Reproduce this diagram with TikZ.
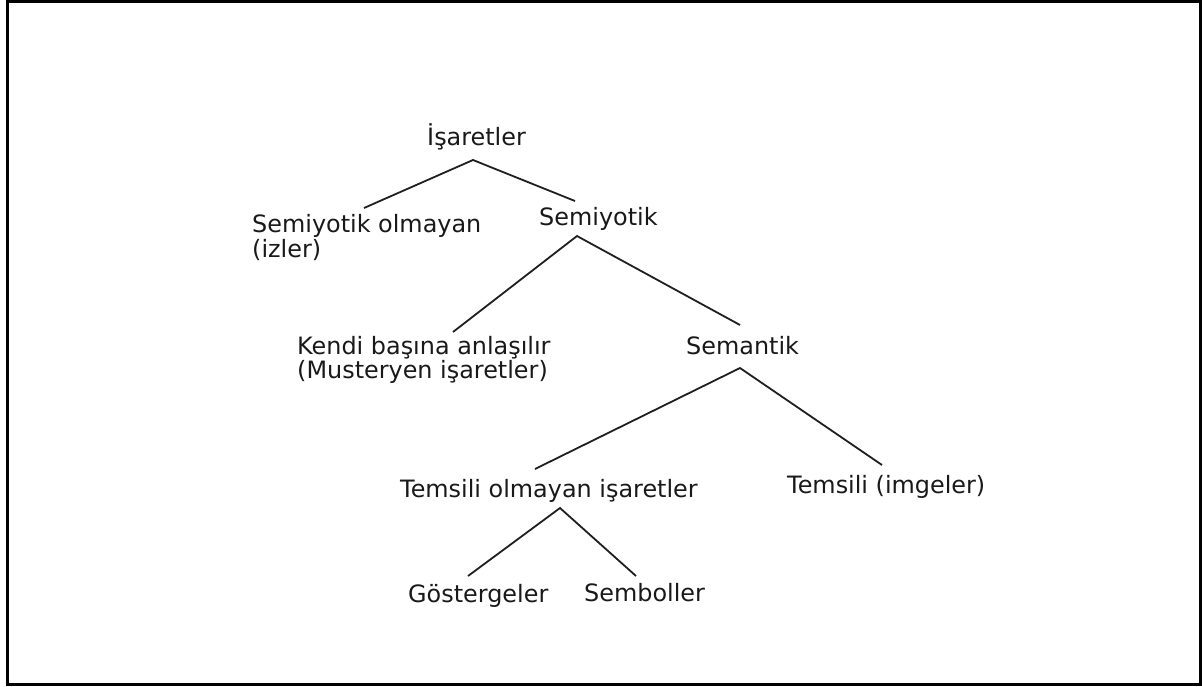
\documentclass[tikz,border=0pt]{standalone}
\usepackage{fontspec}
\setmainfont{DejaVu Sans}
\begin{document}
\begin{tikzpicture}[x=1pt,y=-1pt,
  lbl/.style={anchor=base west,inner sep=0pt,text=black!90,font=\fontsize{23.9}{20}\selectfont,align=left},
  conn/.style={draw=black!88,line width=1.8pt}]
\useasboundingbox (0,0) rectangle (1202,686);
\draw[line width=2.6pt] (7.3,1.3) rectangle (1200.7,684.7);
% nodes (multi-line nodes are placed by the baseline of their last line)
\node[lbl] (isaret) at (427,145) {İşaretler};
\node[lbl] (semol) at (252,257) {Semiyotik olmayan\\(izler)};
\node[lbl] (semiy) at (539,225) {Semiyotik};
\node[lbl] (kendi) at (297,378) {Kendi başına anlaşılır\\(Musteryen işaretler)};
\node[lbl] (seman) at (686,354) {Semantik};
\node[lbl] (temol) at (400,497) {Temsili olmayan işaretler};
\node[lbl] (temsi) at (787,493) {Temsili (imgeler)};
\node[lbl] (goste) at (408,602) {Göstergeler};
\node[lbl] (sembo) at (584,601) {Semboller};
% connector ends
\coordinate (isaretB) at (473,160);
\coordinate (semolT) at (364,208);
\coordinate (semiyT) at (575,201);
\coordinate (semiyB) at (577,236);
\coordinate (kendiT) at (453,332);
\coordinate (semanT) at (740,325);
\coordinate (semanB) at (740,368);
\coordinate (temolT) at (535,469);
\coordinate (temsiT) at (882,465);
\coordinate (temolB) at (560,508);
\coordinate (gosteT) at (468,576);
\coordinate (semboT) at (636,576);
\draw[conn] (semolT) -- (isaretB) -- (semiyT);
\draw[conn] (kendiT) -- (semiyB) -- (semanT);
\draw[conn] (temolT) -- (semanB) -- (temsiT);
\draw[conn] (gosteT) -- (temolB) -- (semboT);
\end{tikzpicture}
\end{document}
